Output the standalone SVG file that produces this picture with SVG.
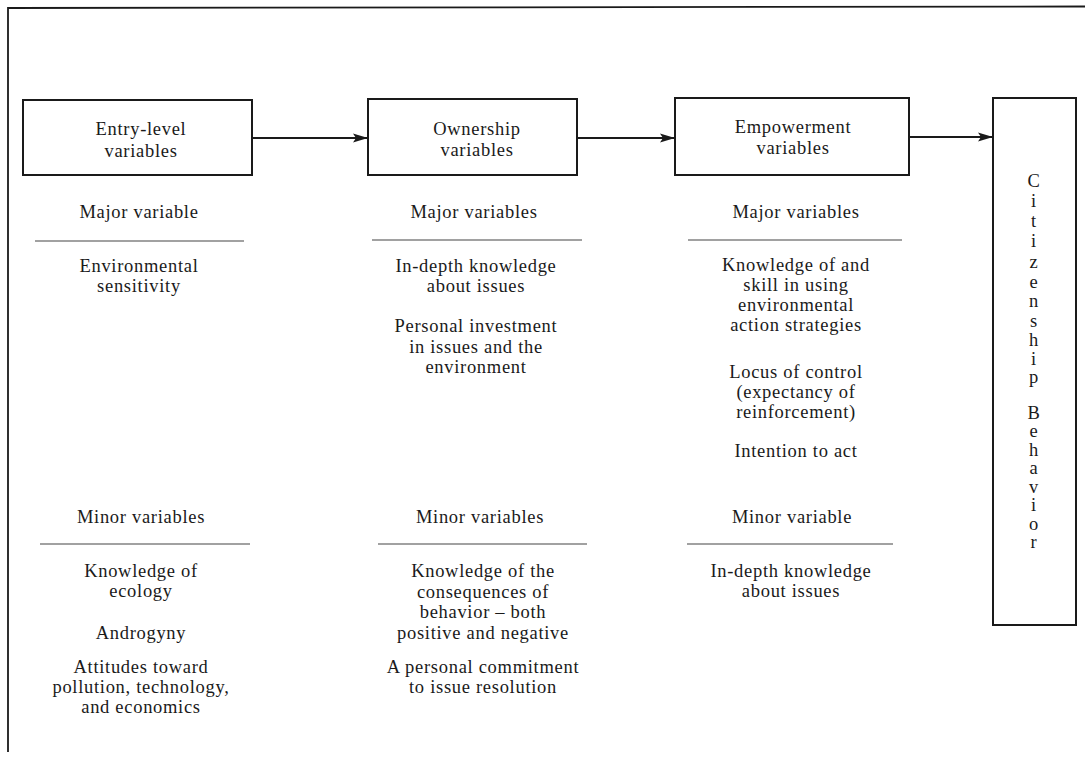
<svg xmlns="http://www.w3.org/2000/svg" width="1085" height="757" viewBox="0 0 1085 757">
<style>
text{font-family:"Liberation Serif","Times New Roman",serif;font-size:18.5px;fill:#1a1a1a;text-anchor:middle;letter-spacing:0.7px}
.box{fill:#fff;stroke:#1a1a1a;stroke-width:2}
.rule{stroke:#444;stroke-width:1.2;fill:none}
.conn{stroke:#1a1a1a;stroke-width:2;fill:none}
.frame{stroke:#1a1a1a;stroke-width:1.8;fill:none}
</style>
<defs>
<marker id="arr" markerWidth="16" markerHeight="10" refX="15" refY="5" orient="auto" markerUnits="userSpaceOnUse">
<path d="M0,0.5 L15,5 L0,9.5 L3,5 Z" fill="#1a1a1a"/>
</marker>
</defs>
<rect width="1085" height="757" fill="#fff"/>
<path class="frame" d="M1085,6.5 L8,8 L8,752"/>

<g id="entry">
<rect class="box" x="23" y="100" width="229" height="75"/>
<text x="141" y="135">Entry-level</text>
<text x="141" y="157">variables</text>
</g>
<g id="ownership">
<rect class="box" x="368" y="99" width="209" height="76"/>
<text x="477" y="135">Ownership</text>
<text x="477" y="156">variables</text>
</g>
<g id="empowerment">
<rect class="box" x="675" y="98" width="234" height="77"/>
<text x="793" y="133">Empowerment</text>
<text x="793" y="154">variables</text>
</g>
<g id="citizenship">
<rect class="box" x="993" y="98" width="83" height="527"/>
<text x="1034" y="187">C</text>
<text x="1034" y="207">i</text>
<text x="1034" y="227">t</text>
<text x="1034" y="247">i</text>
<text x="1034" y="268">z</text>
<text x="1034" y="288">e</text>
<text x="1034" y="307">n</text>
<text x="1034" y="327">s</text>
<text x="1034" y="346">h</text>
<text x="1034" y="365">i</text>
<text x="1034" y="383">p</text>
<text x="1034" y="419">B</text>
<text x="1034" y="437">e</text>
<text x="1034" y="456">h</text>
<text x="1034" y="474">a</text>
<text x="1034" y="493">v</text>
<text x="1034" y="511">i</text>
<text x="1034" y="530">o</text>
<text x="1034" y="548">r</text>
</g>

<g id="connectors">
<line class="conn" x1="252" y1="138" x2="368" y2="138" marker-end="url(#arr)"/>
<line class="conn" x1="577" y1="138" x2="675" y2="138" marker-end="url(#arr)"/>
<line class="conn" x1="909" y1="137" x2="993" y2="137" marker-end="url(#arr)"/>
</g>

<g id="entry-vars">
<text x="139" y="218">Major variable</text>
<line class="rule" x1="35" y1="241" x2="244" y2="241"/>
<text x="139" y="272">Environmental</text>
<text x="139" y="292">sensitivity</text>
<text x="141" y="523">Minor variables</text>
<line class="rule" x1="40" y1="544" x2="250" y2="544"/>
<text x="141" y="577">Knowledge of</text>
<text x="141" y="597">ecology</text>
<text x="141" y="639">Androgyny</text>
<text x="141" y="673">Attitudes toward</text>
<text x="141" y="693">pollution, technology,</text>
<text x="141" y="713">and economics</text>
</g>

<g id="ownership-vars">
<text x="474" y="218">Major variables</text>
<line class="rule" x1="372" y1="240" x2="582" y2="240"/>
<text x="476" y="272">In-depth knowledge</text>
<text x="476" y="292">about issues</text>
<text x="476" y="332">Personal investment</text>
<text x="476" y="353">in issues and the</text>
<text x="476" y="373">environment</text>
<text x="480" y="523">Minor variables</text>
<line class="rule" x1="378" y1="544" x2="587" y2="544"/>
<text x="483" y="577">Knowledge of the</text>
<text x="483" y="598">consequences of</text>
<text x="483" y="618">behavior – both</text>
<text x="483" y="639">positive and negative</text>
<text x="483" y="673">A personal commitment</text>
<text x="483" y="693">to issue resolution</text>
</g>

<g id="empowerment-vars">
<text x="796" y="218">Major variables</text>
<line class="rule" x1="688" y1="240" x2="902" y2="240"/>
<text x="796" y="271">Knowledge of and</text>
<text x="796" y="291">skill in using</text>
<text x="796" y="311">environmental</text>
<text x="796" y="331">action strategies</text>
<text x="796" y="378">Locus of control</text>
<text x="796" y="398">(expectancy of</text>
<text x="796" y="418">reinforcement)</text>
<text x="796" y="457">Intention to act</text>
<text x="792" y="523">Minor variable</text>
<line class="rule" x1="687" y1="544" x2="893" y2="544"/>
<text x="791" y="577">In-depth knowledge</text>
<text x="791" y="597">about issues</text>
</g>
</svg>
